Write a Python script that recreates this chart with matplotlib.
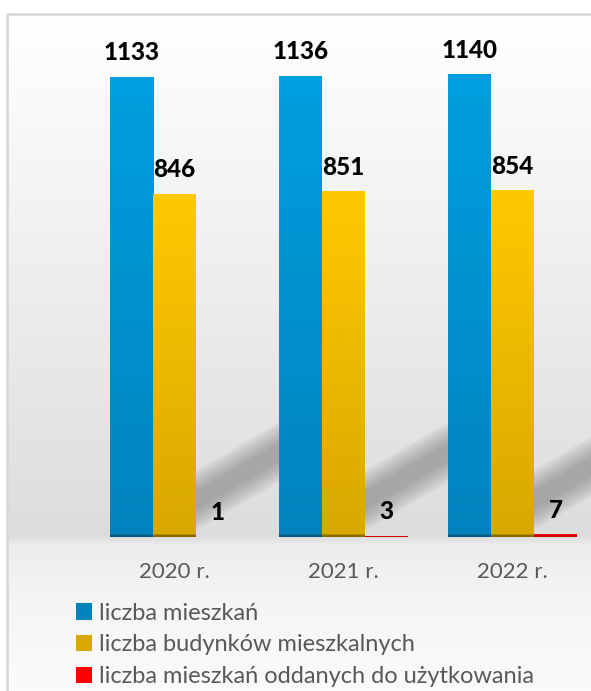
import numpy as np
import matplotlib.pyplot as plt
import matplotlib.colors as mcolors
from matplotlib.patches import Rectangle, Polygon, Patch

### Data
years = ["2020 r.", "2021 r.", "2022 r."]
mieszkania = [1133, 1136, 1140]
budynki = [846, 851, 854]
oddane = [1, 3, 7]
series_names = ["liczba mieszkań", "liczba budynków mieszkalnych",
                "liczba mieszkań oddanych do użytkowania"]

### Colours (top, bottom of gradient, dark foot)
blue = ("#009fe0", "#0083bd", "#005a80")
gold = ("#ffc900", "#d8a700", "#8a6a00")
red = ("#ff0000", "#d40000", "#d40000")

W, H = 591, 691
fig = plt.figure(figsize=(W / 100, H / 100), dpi=100)
plt.rcParams['font.family'] = ['Lato', 'DejaVu Sans']

### Background panel (pixel coords)
bg = fig.add_axes([0, 0, 1, 1])
bg.set_xlim(0, W)
bg.set_ylim(H, 0)
bg.axis("off")
rows = np.arange(14, H)
shade = np.interp(rows, [14, 120, 536, 545, 600, H], [1.0, 0.975, 0.865, 0.93, 0.96, 0.985])
grad = np.repeat(shade[:, None], 2, axis=1)
bg.imshow(np.dstack([grad] * 3), extent=(7, W, H, 14), aspect="auto",
          interpolation="bilinear", zorder=0)
bg.add_patch(Rectangle((7, 14), W, H, fill=False, ec="#d9d9d9", lw=2, zorder=1))

# soft diagonal shadows cast behind each group
slope = 0.58
for gx in (190, 359, 527):
    for k in range(9):
        inset = k * 2.6
        top, bot = 474 + inset, 534 - inset
        L = 140
        pts = [(gx, top), (gx + L, top - slope * L), (gx + L, bot - slope * L), (gx, bot)]
        bg.add_patch(Polygon(pts, closed=True, fc="#707070", ec="none",
                             alpha=0.07, zorder=2))

### Data axes
base_px, top_px = 537, 14
px_per_unit = 460 / 1133
ax = fig.add_axes([20 / W, (H - base_px) / H, (W - 20) / W, (base_px - top_px) / H])
ax.patch.set_alpha(0)
x = np.arange(len(years))
bw = 43 / 169

for off, vals, col, name in [(-bw, mieszkania, blue, series_names[0]),
                             (0, budynki, gold, series_names[1]),
                             (bw, oddane, red, series_names[2])]:
    c = ax.bar(x + off, vals, bw, color=col[1], label=name, zorder=2)
    for p in c.patches:
        bx, pw, ph = p.get_x(), p.get_width(), p.get_height()
        n = max(int(ph), 2)
        t = np.linspace(0, 1, n)[:, None]
        c0 = np.array(mcolors.to_rgb(col[0]))
        c1 = np.array(mcolors.to_rgb(col[1]))
        img = c1 * (1 - t) + c0 * t
        foot = np.linspace(0, ph, n) < 2.2 / px_per_unit
        img[foot] = mcolors.to_rgb(col[2])
        im = ax.imshow(img[:, None, :], extent=(bx, bx + pw, 0, ph), origin="lower",
                       aspect="auto", interpolation="bilinear", zorder=3)
        im.set_clip_path(p)
    ax.bar_label(c, padding=9, fontsize=17.5, fontweight="black", color="black", zorder=4)

ax.set_xlim((20 - 174.5) / 169, (W - 174.5) / 169)
ax.set_ylim(0, (base_px - top_px) / px_per_unit)
ax.set_xticks(x, years, fontsize=16, color="#595959")
ax.tick_params(axis="x", length=0, pad=18)
ax.set_yticks([])
for s in ax.spines.values():
    s.set_visible(False)

handles = [Patch(fc=blue[1]), Patch(fc=gold[1]), Patch(fc=red[0])]
fig.legend(handles, series_names, loc="upper left", bbox_to_anchor=(64 / W, 1 - 591 / H),
           frameon=False, fontsize=17, labelcolor="#595959", handlelength=0.7,
           handleheight=0.7, handletextpad=0.3, labelspacing=0.45, borderpad=0)

fig.savefig("out.png", dpi=100)
